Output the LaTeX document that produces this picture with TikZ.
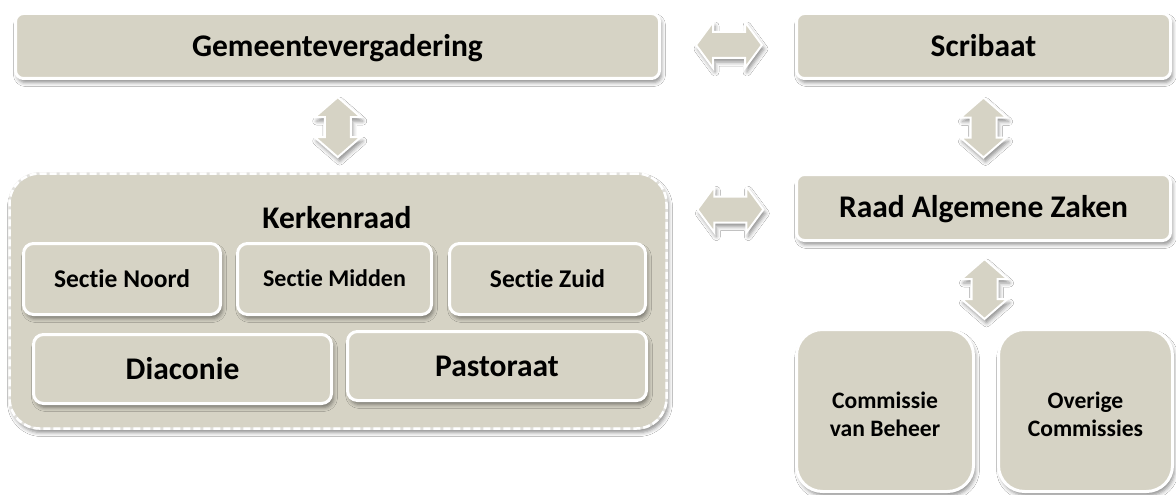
\documentclass[tikz,border=0pt]{standalone}
\usepackage{fontspec}
\setmainfont[Ligatures={NoCommon}]{Carlito}
\usetikzlibrary{calc,shadows.blur}
\definecolor{boxfill}{RGB}{214,211,197}
\definecolor{dashgap}{RGB}{225,224,220}
\tikzset{
  shd/.style={blur shadow={shadow xshift=2pt, shadow yshift=-4pt, shadow blur radius=4pt, shadow opacity=45}},
  big/.style={text height=20.3pt, text depth=0pt, font=\bfseries\fontsize{31.5}{37}\selectfont},
  mid/.style={text height=16.2pt, text depth=0pt, font=\bfseries\fontsize{25.5}{30}\selectfont},
  box/.style={draw=white, line width=3pt, fill=boxfill, rounded corners=8pt, shd, inner sep=0pt, big},
  sub/.style={box, rounded corners=10pt, mid},
  tall/.style={draw=white, line width=3pt, fill=boxfill, shd, rounded corners=26pt, inner sep=0pt},
  container/.style={draw=dashgap, line width=2.5pt, fill=boxfill, rounded corners=30pt, shd,
    postaction={draw=white, line width=2.5pt, dash pattern=on 7pt off 3pt}},
  lbl/.style={inner sep=0pt, big},
  clbl/.style={inner sep=0pt, align=center, font=\bfseries\fontsize{23.6}{28.5}\selectfont},
  arr/.style={draw=white, line width=2pt, fill=boxfill, line join=miter, shd},
  varrow/.pic={\path[arr] (0,-30) -- ++(23,20) -- ++(-10,0) -- ++(0,20) -- ++(10,0) -- ++(-23,20)
      -- ++(-23,-20) -- ++(10,0) -- ++(0,-20) -- ++(-10,0) -- cycle;},
  harrow/.pic={\path[arr] (-33,0) -- ++(17,-23) -- ++(0,10) -- ++(32,0) -- ++(0,-10) -- ++(17,23)
      -- ++(-17,23) -- ++(0,-10) -- ++(-32,0) -- ++(0,10) -- cycle;}
}
\begin{document}
\begin{tikzpicture}[x=1pt,y=-1pt]
\useasboundingbox[fill=white] (0,0) rectangle (1176,495);

% top row
\node[box, minimum width=644pt, minimum height=65pt] (gem) at (337.5,46) {Gemeentevergadering};
\node[box, minimum width=374pt, minimum height=65pt] (scr) at (983.5,46) {Scribaat};
\node[box, minimum width=374pt, minimum height=66pt] (raz) at (983.5,207.5) {Raad Algemene Zaken};

% Kerkenraad container
\node[container, minimum width=657pt, minimum height=255pt] (ker) at (338,301) {};
\node[lbl] (kert) at (337,218) {Kerkenraad};
\node[sub, minimum width=197pt, minimum height=71pt] (sn) at (122,279) {Sectie Noord};
\node[sub, minimum width=194pt, minimum height=71pt, text height=15.5pt, font=\bfseries\fontsize{24}{29}\selectfont] (sm) at (334.5,279) {Sectie Midden};
\node[sub, minimum width=196pt, minimum height=71pt] (sz) at (547.5,279) {Sectie Zuid};
\node[box, rounded corners=10pt, minimum width=298pt, minimum height=69pt] (dia) at (182.5,369) {Diaconie};
\node[box, rounded corners=10pt, minimum width=299pt, minimum height=69pt] (pas) at (497,366) {Pastoraat};

% commissies
\node[tall, minimum width=177pt, minimum height=162pt] (cvb) at (885,410.5) {};
\node[tall, minimum width=174pt, minimum height=162pt] (ovc) at (1085.5,410.5) {};
\node[clbl] (cvbt) at ([yshift=-4pt]cvb.center) {Commissie\\van Beheer};
\node[clbl] (ovct) at ([yshift=-4pt]ovc.center) {Overige\\Commissies};

% arrows
\coordinate (h1) at ($(gem.east)!0.5!(scr.west)+(1,-1)$);
\coordinate (h2) at ($(ker.east |- raz.west)!0.5!(raz.west)+(-1,2)$);
\coordinate (v1) at ($(gem.south)!0.5!(ker.north)+(0,1)$);
\coordinate (v2) at ($(scr.south)!0.5!(raz.north)+(0,1)$);
\coordinate (v3) at ($(raz.south)!0.5!(cvb.north -| raz.south)+(1,4)$);
\pic at (h1) {harrow};
\pic at (h2) {harrow};
\pic at (v1) {varrow};
\pic at (v2) {varrow};
\pic at (v3) {varrow};
\end{tikzpicture}
\end{document}
